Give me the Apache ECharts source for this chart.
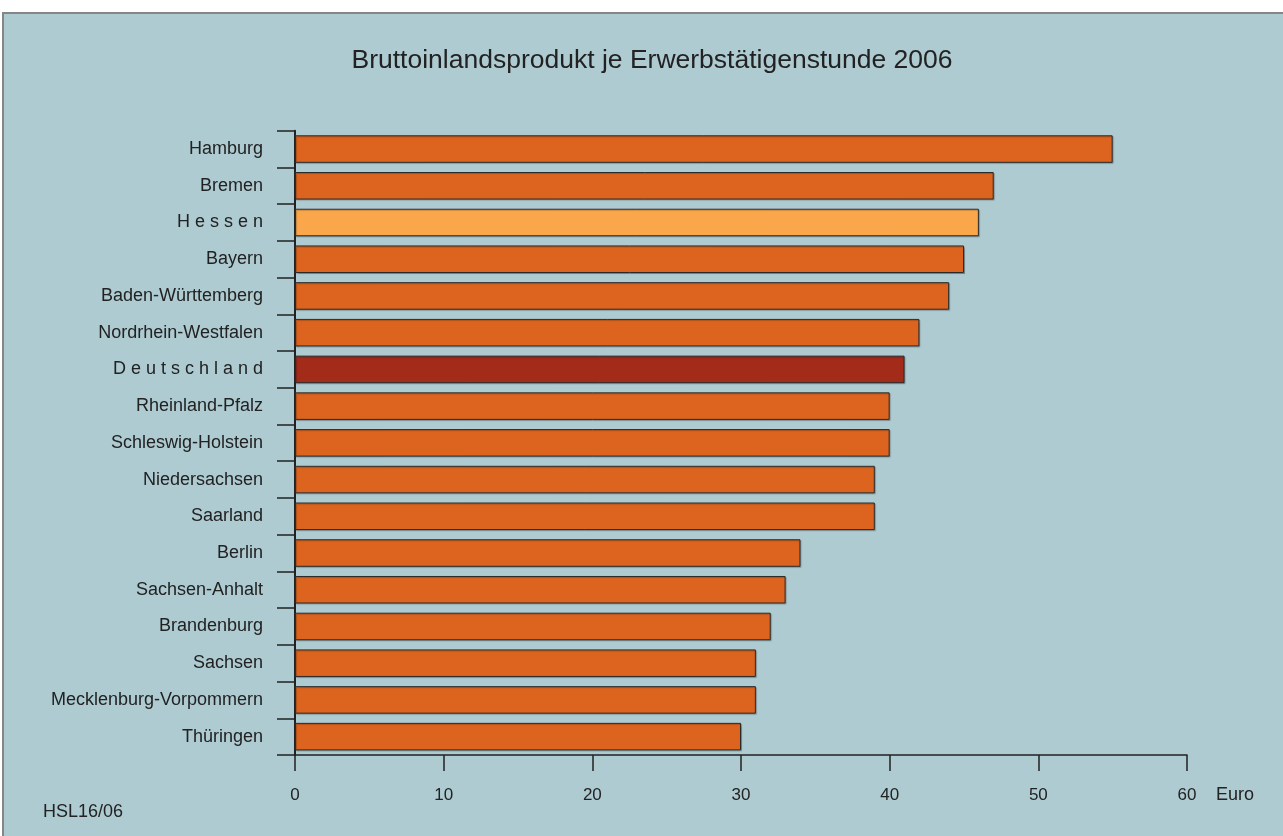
<!DOCTYPE html>
<html lang="de">
<head>
<meta charset="utf-8">
<title>Bruttoinlandsprodukt je Erwerbstätigenstunde 2006</title>
<script src="https://cdn.jsdelivr.net/npm/echarts@6/dist/echarts.min.js"></script>
<style>
  html, body { margin: 0; padding: 0; background: #ffffff; }
  #chart { width: 1283px; height: 836px; }
</style>
</head>
<body>
<div id="chart"></div>
<script>
// Bundesländer, sorted by output per hour worked (Euro)
const laender = [
  'Hamburg', 'Bremen', 'Hessen', 'Bayern', 'Baden-Württemberg',
  'Nordrhein-Westfalen', 'Deutschland', 'Rheinland-Pfalz', 'Schleswig-Holstein',
  'Niedersachsen', 'Saarland', 'Berlin', 'Sachsen-Anhalt', 'Brandenburg',
  'Sachsen', 'Mecklenburg-Vorpommern', 'Thüringen'
];
const euroJeStunde = [55, 47, 46, 45, 44, 42, 41, 40, 40, 39, 39, 34, 33, 32, 31, 31, 30];
const euroTicks = [0, 10, 20, 30, 40, 50, 60];

const titelText = 'Bruttoinlandsprodukt je Erwerbstätigenstunde 2006';
const quelleText = 'HSL16/06';
const einheitText = 'Euro';

// Colours and emphasis
const farbeStandard = '#DC641E';
const farbeHessen = '#FAA64B';
const farbeBund = '#A32B19';
const hintergrund = '#AECBD2';
const gesperrt = ['Hessen', 'Deutschland'];   // printed letter-spaced

function barColor(name) {
  if (name === 'Hessen') return farbeHessen;
  if (name === 'Deutschland') return farbeBund;
  return farbeStandard;
}

const font = '"Liberation Sans", Arial, Helvetica, sans-serif';
const chart = echarts.init(document.getElementById('chart'), null, { renderer: 'canvas' });

const option = {
  backgroundColor: '#ffffff',
  animation: false,
  textStyle: { fontFamily: font },
  grid: { left: 295, right: 96, top: 130.7, bottom: 81, containLabel: false },
  xAxis: {
    type: 'value',
    min: euroTicks[0],
    max: euroTicks[euroTicks.length - 1],
    interval: euroTicks[1] - euroTicks[0],
    axisLine: { show: true, onZero: false, lineStyle: { color: '#222', width: 1.5 } },
    axisTick: { show: true, length: 16, lineStyle: { color: '#222', width: 1.5 } },
    axisLabel: { margin: 32, fontSize: 17, color: '#222', fontFamily: font },
    splitLine: { show: false }
  },
  yAxis: {
    type: 'category',
    data: laender,
    inverse: true,
    axisLine: { show: true, lineStyle: { color: '#222', width: 2 } },
    axisTick: { show: true, length: 18, alignWithLabel: false, lineStyle: { color: '#222', width: 1.5 } },
    axisLabel: {
      margin: 32, fontSize: 18, color: '#222', fontFamily: font,
      formatter: function (v) { return gesperrt.indexOf(v) >= 0 ? v.split('').join(' ') : v; }
    },
    splitLine: { show: false }
  },
  series: [{
    type: 'bar',
    barCategoryGap: '25%',
    data: euroJeStunde.map(function (v, i) {
      return { value: v, itemStyle: { color: barColor(laender[i]) } };
    }),
    itemStyle: {
      borderColor: '#2a2a2a',
      borderWidth: 1,
      shadowColor: 'rgba(0,0,0,0.22)',
      shadowOffsetX: 1,
      shadowOffsetY: 1,
      shadowBlur: 1
    },
    z: 3
  }],
  graphic: [
    {
      type: 'rect', z: -10, silent: true,
      shape: { x: 3, y: 13, width: 1300, height: 840 },
      style: { fill: hintergrund, stroke: '#858585', lineWidth: 2 }
    },
    {
      type: 'text', z: 10, silent: true, x: 652, y: 61,
      style: { text: titelText, font: '26.5px ' + font, fill: '#222', align: 'center', verticalAlign: 'middle' }
    },
    {
      type: 'text', z: 10, silent: true, x: 43, y: 812,
      style: { text: quelleText, font: '18px ' + font, fill: '#222', align: 'left', verticalAlign: 'middle' }
    },
    {
      type: 'text', z: 10, silent: true, x: 1216, y: 795,
      style: { text: einheitText, font: '18px ' + font, fill: '#222', align: 'left', verticalAlign: 'middle' }
    }
  ]
};

chart.setOption(option);
</script>
</body>
</html>
